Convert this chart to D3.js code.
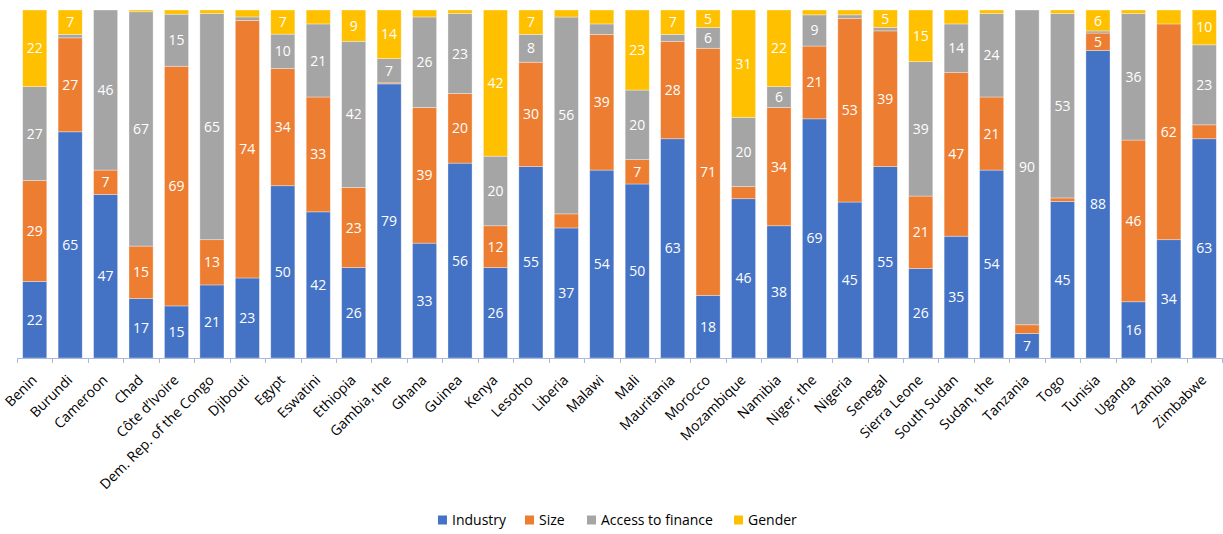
<!DOCTYPE html>
<html>
<head>
<meta charset="utf-8">
<script src="https://cdn.jsdelivr.net/npm/d3@7"></script>
<style>
  body { margin: 0; background: #fff; }
  text { font-family: 'Open Sans', 'Noto Sans', sans-serif; }
</style>
</head>
<body>
<div id="chart"></div>
<script>
const categories = ['Benin', 'Burundi', 'Cameroon', 'Chad', 'Côte d\u2019Ivoire', 'Dem. Rep. of the Congo',
  'Djibouti', 'Egypt', 'Eswatini', 'Ethiopia', 'Gambia, the', 'Ghana', 'Guinea', 'Kenya', 'Lesotho',
  'Liberia', 'Malawi', 'Mali', 'Mauritania', 'Morocco', 'Mozambique', 'Namibia', 'Niger, the',
  'Nigeria', 'Senegal', 'Sierra Leone', 'South Sudan', 'Sudan, the', 'Tanzania', 'Togo', 'Tunisia',
  'Uganda', 'Zambia', 'Zimbabwe']

const industry = [22, 65, 47, 17, 15, 21, 23, 50, 42, 26, 79, 33, 56, 26, 55, 37, 54, 50, 63, 18, 46, 38, 69, 45, 55, 26, 35, 54, 7, 45, 88, 16, 34, 63]
const size = [29, 27, 7, 15, 69, 13, 74, 34, 33, 23, 0.3, 39, 20, 12, 30, 4, 39, 7, 28, 71, 3.5, 34, 21, 53, 39, 21, 47, 21, 2.5, 1, 5, 46, 62, 4]
const finance = [27, 1, 46, 67, 15, 65, 1, 10, 21, 42, 7, 26, 23, 20, 8, 56, 3, 20, 2, 6, 20, 6, 9, 1, 1, 39, 14, 24, 90, 53, 0.6, 36, 0, 23]
const gender = [22, 7, 0, 0.5, 1.2, 1, 2, 7, 4, 9, 14, 2, 1, 42, 7, 2, 4, 23, 7, 5, 31, 22, 1.4, 1.4, 5, 15, 4, 1, 0, 1, 6, 1, 4, 10]

const seriesNames = ['Industry', 'Size', 'Access to finance', 'Gender']
const colors = ['#4472C4', '#ED7D31', '#A5A5A5', '#FFC000']

let margin = { top: 10, left: 17, right: 1, bottom: 176 }
let width = 1223 - margin.left - margin.right
let height = 534 - margin.top - margin.bottom

const svg = d3
  .select('#chart')
  .append('svg')
  .attr('width', 1223)
  .attr('height', 534)

const g = svg.append('g')
  .attr('transform', 'translate(' + margin.left + ',' + margin.top + ')')

// table for the stack
const rows = categories.map((c, i) => ({
  country: c,
  Industry: industry[i],
  Size: size[i],
  'Access to finance': finance[i],
  Gender: gender[i]
}))

const stack = d3.stack().keys(seriesNames).offset(d3.stackOffsetExpand)
const layers = stack(rows)

const xPositionScale = d3.scaleBand()
  .domain(categories)
  .range([0, width])
  .paddingInner(0.32)
  .paddingOuter(0.16)

const yPositionScale = d3.scaleLinear()
  .domain([0, 1])
  .range([height, 0])

const colorScale = d3.scaleOrdinal().domain(seriesNames).range(colors)

const layerG = g.selectAll('.layer')
  .data(layers)
  .enter()
  .append('g')
  .attr('class', 'layer')
  .attr('fill', d => colorScale(d.key))

layerG.selectAll('rect')
  .data(d => d)
  .enter()
  .append('rect')
  .attr('x', d => xPositionScale(d.data.country))
  .attr('width', xPositionScale.bandwidth())
  .attr('y', d => yPositionScale(d[1]))
  .attr('height', d => yPositionScale(d[0]) - yPositionScale(d[1]))
  .attr('stroke', 'rgba(255,255,255,0.45)')
  .attr('stroke-width', 0.75)

// value labels, only for segments of 5 or more
layerG.selectAll('text')
  .data(d => d.map(p => ({ p: p, key: d.key })))
  .enter()
  .filter(d => d.p.data[d.key] >= 5)
  .append('text')
  .attr('x', d => xPositionScale(d.p.data.country) + xPositionScale.bandwidth() / 2)
  .attr('y', d => (yPositionScale(d.p[0]) + yPositionScale(d.p[1])) / 2)
  .attr('dy', '0.36em')
  .attr('text-anchor', 'middle')
  .attr('fill', '#fff')
  .style('font-size', '14px')
  .text(d => Math.round(d.p.data[d.key]))

// x axis: line + ticks at category boundaries
const axisColor = '#A9B9DA'
g.append('line')
  .attr('x1', 0)
  .attr('x2', width)
  .attr('y1', height + 0.5)
  .attr('y2', height + 0.5)
  .attr('stroke', axisColor)

const step = xPositionScale.step()
const boundaries = categories.map(c => xPositionScale(c) - step * 0.16)
boundaries.push(xPositionScale(categories[categories.length - 1]) + xPositionScale.bandwidth() + step * 0.16)

g.selectAll('.tick-mark')
  .data(boundaries)
  .enter()
  .append('line')
  .attr('class', 'tick-mark')
  .attr('x1', d => Math.round(d) + 0.5)
  .attr('x2', d => Math.round(d) + 0.5)
  .attr('y1', height)
  .attr('y2', height + 5)
  .attr('stroke', axisColor)

g.selectAll('.x-label')
  .data(categories)
  .enter()
  .append('text')
  .attr('class', 'x-label')
  .attr('transform', d => 'translate(' + (xPositionScale(d) + xPositionScale.bandwidth() / 2 + 3) + ',' + (height + 23) + ') rotate(-45)')
  .attr('text-anchor', 'end')
  .attr('fill', '#000')
  .style('font-size', '14px')
  .text(d => d)

// legend
const legendX = [438, 525, 587, 734]
const legend = svg.selectAll('.legend')
  .data(seriesNames)
  .enter()
  .append('g')
  .attr('class', 'legend')
  .attr('transform', (d, i) => 'translate(' + legendX[i] + ',520)')

legend.append('rect')
  .attr('x', 0)
  .attr('y', -4.5)
  .attr('width', 9)
  .attr('height', 9)
  .attr('fill', d => colorScale(d))

legend.append('text')
  .attr('x', 14)
  .attr('dy', '0.36em')
  .attr('fill', '#000')
  .style('font-size', '14px')
  .text(d => d)
</script>
</body>
</html>
